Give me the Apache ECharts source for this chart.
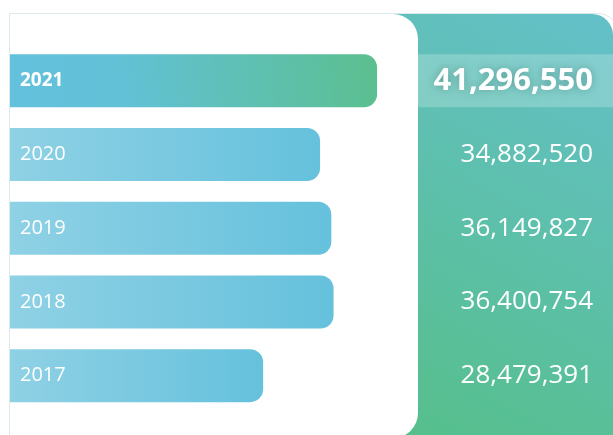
<!DOCTYPE html>
<html>
<head>
<meta charset="utf-8">
<script src="https://cdn.jsdelivr.net/npm/echarts@6/dist/echarts.min.js"></script>
<style>
  html, body { margin: 0; padding: 0; background: #fff; }
  #yearChart { width: 613px; height: 435px; }
</style>
</head>
<body>
<div id="yearChart"></div>
<script>
// 年度数据
var years = ['2021', '2020', '2019', '2018', '2017'];
var totals = [41296550, 34882520, 36149827, 36400754, 28479391];
var activeYear = '2021';

var chart = echarts.init(document.getElementById('yearChart'));

function barColor (isActive) {
  if (isActive) {
    return new echarts.graphic.LinearGradient(0, 1, 1, 0, [
      { offset: 0, color: '#63c1de' },
      { offset: 0.3, color: '#62c1d6' },
      { offset: 1, color: '#5bbf8f' }
    ]);
  }
  return new echarts.graphic.LinearGradient(0, 0, 1, 0, [
    { offset: 0, color: '#8fd1e5' },
    { offset: 1, color: '#65c1dc' }
  ]);
}

var barData = years.map(function (y, i) {
  var isActive = y === activeYear;
  return {
    value: totals[i],
    itemStyle: { color: barColor(isActive) },
    label: isActive ? { fontWeight: 'bold', fontSize: 19 } : { fontWeight: 'normal', fontSize: 20 }
  };
});

var option = {
  animation: false,
  textStyle: { fontFamily: 'Open Sans' },
  grid: { left: 10, top: 44, width: 408, height: 368.5 },
  xAxis: {
    type: 'value',
    min: 0,
    max: 45900000,
    show: false
  },
  yAxis: [
    {
      type: 'category',
      data: years,
      inverse: true,
      show: false
    },
    {
      type: 'category',
      data: years,
      inverse: true,
      position: 'right',
      axisLine: { show: false },
      axisTick: { show: false },
      axisLabel: {
        align: 'right',
        margin: 175,
        color: '#fff',
        fontFamily: 'Open Sans',
        formatter: function (val, idx) {
          var txt = totals[idx].toLocaleString('en-US');
          return val === activeYear ? '{hl|' + txt + '}' : '{n|' + txt + '}';
        },
        rich: {
          hl: {
            fontSize: 31,
            fontWeight: 'bold',
            color: '#fff',
            fontFamily: 'Open Sans',
            textShadowColor: 'rgba(0,60,50,0.35)',
            textShadowBlur: 10
          },
          n: {
            fontSize: 26,
            color: '#fff',
            fontFamily: 'Open Sans'
          }
        }
      }
    }
  ],
  graphic: [
    // 右侧绿色面板
    {
      id: 'greenPanel', type: 'rect', z: -9,
      shape: { x: 380, y: 14, width: 233, height: 430, r: [0, 21, 0, 0] },
      style: {
        fill: new echarts.graphic.LinearGradient(1, 0, 0, 1, [
          { offset: 0, color: '#64c0c9' },
          { offset: 1, color: '#55bf89' }
        ])
      }
    },
    // 左侧白色面板
    {
      id: 'whitePanel', type: 'rect', z: -7,
      shape: { x: 10, y: 14, width: 408, height: 424, r: [0, 25, 25, 0] },
      style: { fill: '#fff' }
    },
    // 外框
    {
      id: 'frame', type: 'rect', z: -6,
      shape: { x: 9.5, y: 13.5, width: 610, height: 440, r: [0, 22, 0, 0] },
      style: { fill: 'none', stroke: '#dbe9eb', lineWidth: 1 }
    }
  ],
  series: [
    {
      type: 'bar',
      yAxisIndex: 0,
      data: barData,
      barWidth: 53,
      itemStyle: { borderRadius: [0, 13, 13, 0] },
      label: {
        show: true,
        position: 'insideLeft',
        distance: 10,
        color: '#fff',
        fontFamily: 'Open Sans',
        formatter: '{b}'
      }
    }
  ]
};

chart.setOption(option);

// 高亮行的半透明背景带（按坐标轴换算位置）
var idx = years.indexOf(activeYear);
var cy = chart.convertToPixel({ yAxisIndex: 0 }, idx);
chart.setOption({
  graphic: [
    {
      id: 'activeBand', type: 'rect', z: -8,
      shape: { x: 418, y: cy - 26.5, width: 195, height: 53 },
      style: { fill: 'rgba(255,255,255,0.22)' }
    }
  ]
});
</script>
</body>
</html>
